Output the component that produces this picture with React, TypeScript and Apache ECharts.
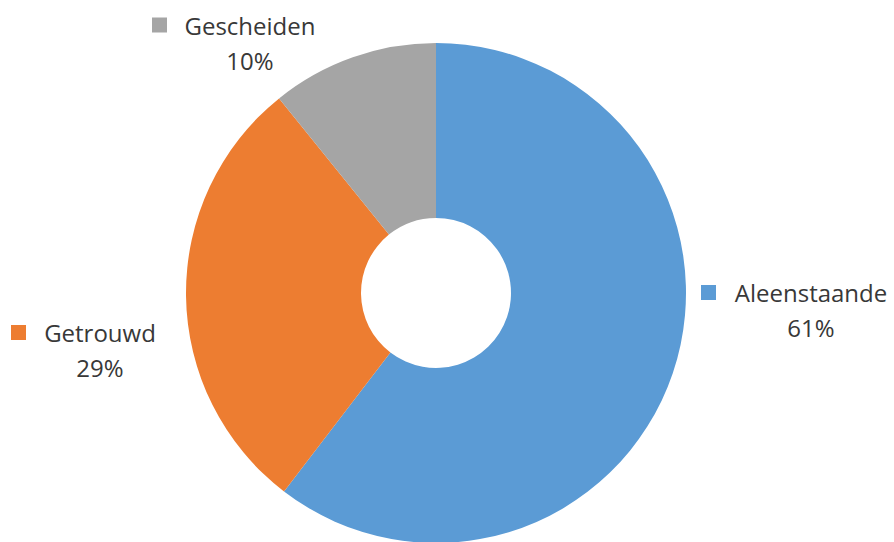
import React, { useEffect, useRef } from "react";
import * as echarts from "echarts";

// Data
const categories = ["Aleenstaande", "Getrouwd", "Gescheiden"];
const shares = [60.4, 28.8, 10.8]; // slice sizes
const percentLabels = ["61%", "29%", "10%"];
const colors = ["#5B9BD5", "#ED7D31", "#A5A5A5"];

// Layout (label block centres and marker centres)
const labelPos = [
  [811, 310],
  [100, 350],
  [250, 42.5],
];
const markerPos = [
  [708.5, 292.5],
  [18.5, 332.5],
  [159.5, 25],
];

const FONT = "'Open Sans', sans-serif";

export default function App() {
  const ref = useRef<HTMLDivElement>(null);
  useEffect(() => {
    if (!ref.current) return;
    const chart = echarts.init(ref.current, undefined, { renderer: "svg" });
    chart.setOption({
      animation: false,
      backgroundColor: "#ffffff",
      series: [
        {
          type: "pie",
          center: [436, 293],
          radius: [75, 250],
          startAngle: 90,
          clockwise: true,
          silent: true,
          itemStyle: { borderWidth: 0 },
          labelLine: { show: false },
          label: {
            show: true,
            position: "outside",
            formatter: (p: any) => `{n|${p.name}}\n{p|${percentLabels[p.dataIndex]}}`,
            rich: {
              n: { fontFamily: FONT, fontSize: 24, color: "#383838", lineHeight: 35, align: "center" },
              p: { fontFamily: FONT, fontSize: 24, color: "#383838", lineHeight: 35, align: "center" },
            },
          },
          labelLayout: (params: any) => ({
            x: labelPos[params.dataIndex][0],
            y: labelPos[params.dataIndex][1],
            align: "center",
            verticalAlign: "middle",
          }),
          data: categories.map((c, i) => ({
            name: c,
            value: shares[i],
            itemStyle: { color: colors[i] },
          })),
        },
      ],
      graphic: categories.map((c, i) => ({
        type: "rect",
        shape: { x: markerPos[i][0] - 7.5, y: markerPos[i][1] - 7.5, width: 15, height: 15 },
        style: { fill: colors[i] },
        silent: true,
      })),
    });
    return () => chart.dispose();
  }, []);
  return (
    <div
      ref={ref}
      style={{ position: "fixed", left: 0, top: 0, width: 894, height: 542 }}
    />
  );
}
